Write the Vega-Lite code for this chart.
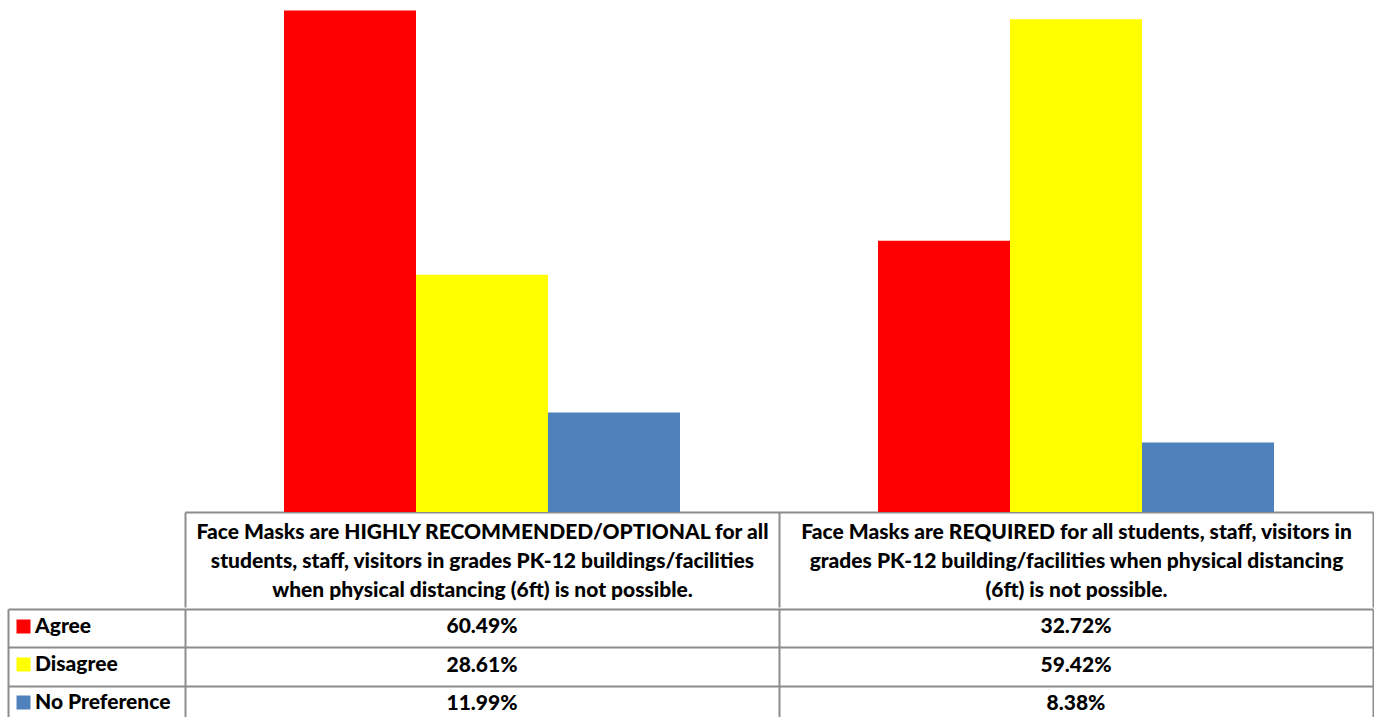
{
  "$schema": "https://vega.github.io/schema/vega-lite/v6.json",
  "padding": {"left": 7, "top": 0, "right": 0, "bottom": 0},
  "background": "white",
  "spacing": 0,
  "datasets": {
    "responses": [
      {"statement": "Face Masks are HIGHLY RECOMMENDED/OPTIONAL for all\nstudents, staff, visitors in grades PK-12 buildings/facilities\nwhen physical distancing (6ft) is not possible.", "response": "Agree", "share": 0.6049},
      {"statement": "Face Masks are HIGHLY RECOMMENDED/OPTIONAL for all\nstudents, staff, visitors in grades PK-12 buildings/facilities\nwhen physical distancing (6ft) is not possible.", "response": "Disagree", "share": 0.2861},
      {"statement": "Face Masks are HIGHLY RECOMMENDED/OPTIONAL for all\nstudents, staff, visitors in grades PK-12 buildings/facilities\nwhen physical distancing (6ft) is not possible.", "response": "No Preference", "share": 0.1199},
      {"statement": "Face Masks are REQUIRED for all students, staff, visitors in\ngrades PK-12 building/facilities when physical distancing\n(6ft) is not possible.", "response": "Agree", "share": 0.3272},
      {"statement": "Face Masks are REQUIRED for all students, staff, visitors in\ngrades PK-12 building/facilities when physical distancing\n(6ft) is not possible.", "response": "Disagree", "share": 0.5942},
      {"statement": "Face Masks are REQUIRED for all students, staff, visitors in\ngrades PK-12 building/facilities when physical distancing\n(6ft) is not possible.", "response": "No Preference", "share": 0.0838}
    ]
  },
  "resolve": {"scale": {"color": "independent", "x": "independent", "y": "independent"}, "legend": {"color": "independent"}},
  "vconcat": [
    {
      "width": 1188,
      "height": 512,
      "data": {"name": "responses"},
      "mark": {"type": "bar"},
      "encoding": {
        "x": {
          "field": "statement", "type": "nominal", "sort": null,
          "scale": {"paddingInner": 0, "paddingOuter": 0},
          "axis": {
            "title": null, "orient": "bottom",
            "domain": true, "domainColor": "#8c8c8c", "domainWidth": 2,
            "ticks": true, "tickBand": "extent", "tickSize": 95, "tickColor": "#8c8c8c", "tickWidth": 2,
            "labelExpr": "isValid(datum.value) ? split(datum.value, '\\n') : ''",
            "labelFont": "Lato", "labelFontSize": 21, "labelFontWeight": 900, "labelColor": "black",
            "labelLineHeight": 29, "labelBaseline": "top", "labelPadding": -86,
            "labelLimit": 0, "labelOverlap": false, "labelBound": false, "labelAngle": 0,
            "minExtent": 95, "maxExtent": 95, "grid": false
          }
        },
        "xOffset": {
          "field": "response", "type": "nominal",
          "sort": ["Agree", "Disagree", "No Preference"],
          "scale": {"paddingInner": 0, "paddingOuter": 0.75}
        },
        "y": {
          "field": "share", "type": "quantitative",
          "scale": {"domain": [0, 0.6175], "nice": false},
          "axis": {"labels": false, "ticks": false, "domain": false, "grid": false, "title": null, "minExtent": 177, "maxExtent": 177}
        },
        "color": {
          "field": "response", "type": "nominal",
          "scale": {"domain": ["Agree", "Disagree", "No Preference"], "range": ["#FF0000", "#FFFF00", "#4F81BD"]},
          "legend": null
        }
      }
    },
    {
      "width": 1188,
      "height": 115,
      "data": {"name": "responses"},
      "encoding": {
        "x": {
          "field": "statement", "type": "nominal", "sort": null,
          "scale": {"paddingInner": 0, "paddingOuter": 0},
          "axis": {
            "title": null, "orient": "bottom", "domain": false, "ticks": false, "labels": false,
            "grid": true, "tickBand": "extent", "gridColor": "#8c8c8c", "gridWidth": 2, "gridOpacity": 1,
            "minExtent": 0, "maxExtent": 0
          }
        },
        "y": {
          "field": "response", "type": "nominal",
          "sort": ["Agree", "Disagree", "No Preference"],
          "scale": {"paddingInner": 0, "paddingOuter": 0},
          "axis": {
            "title": null, "orient": "left", "offset": 177,
            "domain": true, "domainColor": "#8c8c8c", "domainWidth": 2,
            "ticks": true, "tickBand": "extent", "tickSize": -177, "tickColor": "#8c8c8c", "tickWidth": 2,
            "labels": false,
            "grid": true, "gridColor": "#8c8c8c", "gridWidth": 2, "gridOpacity": 1,
            "minExtent": 0, "maxExtent": 0
          }
        }
      },
      "layer": [
        {
          "mark": {"type": "rect", "opacity": 0},
          "encoding": {
            "color": {
              "field": "response", "type": "nominal",
              "scale": {"domain": ["Agree", "Disagree", "No Preference"], "range": ["#FF0000", "#FFFF00", "#4F81BD"]},
              "legend": {
                "orient": "none", "legendX": -172, "legendY": 7, "title": null,
                "symbolType": "square", "symbolSize": 196, "symbolStrokeWidth": 0, "symbolOpacity": 1,
                "labelFont": "Lato", "labelFontSize": 21, "labelFontWeight": 900, "labelColor": "black",
                "labelOffset": 1, "rowPadding": 16, "padding": 0, "labelLimit": 0
              }
            }
          }
        },
        {
          "mark": {"type": "text", "font": "Lato", "fontSize": 21, "fontWeight": 900, "color": "black", "dy": -1},
          "encoding": {
            "text": {"field": "share", "type": "quantitative", "format": ".2%"}
          }
        }
      ]
    }
  ],
  "config": {
    "view": {"stroke": null}
  }
}
